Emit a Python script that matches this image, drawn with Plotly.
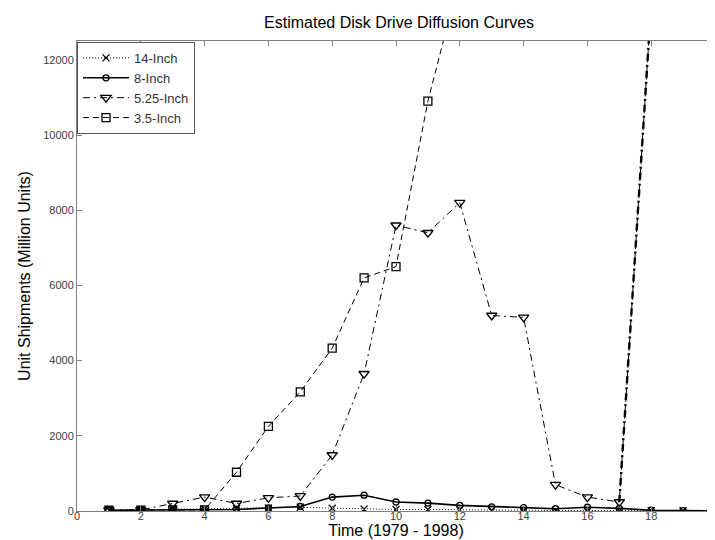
import plotly.graph_objects as go

years = list(range(1, 21))
inch14 = [20, 30, 40, 50, 60, 80, 100, 75, 50, 40, 40, 30, 20, 20, 15, 15, 10, 10, 5, 5]
inch8 = [20, 20, 20, 30, 40, 80, 120, 370, 420, 240, 210, 150, 110, 90, 60, 100, 70, 20, 10, 5]
inch525 = [20, 30, 200, 370, 200, 350, 400, 1490, 3650, 7600, 7400, 8200, 5200, 5150, 700, 370, 240, 13500, None, None]
inch35 = [20, 20, 30, 30, 1030, 2250, 3170, 4330, 6200, 6500, 10900, 14200, None, None, None, None, None, None, None, None]

x_ticks = list(range(0, 21, 2))
y_ticks = list(range(0, 12001, 2000))

FONT = "Liberation Sans, Arial, sans-serif"
INK = "black"

fig = go.Figure()
fig.add_trace(go.Scatter(
    x=years, y=inch14, name="14-Inch", mode="lines+markers",
    line=dict(color=INK, width=1, dash="1px,2px"),
    marker=dict(symbol="x-thin-open", size=7, color=INK, line=dict(color=INK, width=1.3)),
))
fig.add_trace(go.Scatter(
    x=years, y=inch8, name="8-Inch", mode="lines+markers",
    line=dict(color=INK, width=1.6),
    marker=dict(symbol="circle-open", size=6, color=INK, line=dict(color=INK, width=1.3)),
))
fig.add_trace(go.Scatter(
    x=years, y=inch525, name="5.25-Inch", mode="lines+markers",
    line=dict(color=INK, width=1, dash="7px,4px,2px,4px"),
    marker=dict(symbol="triangle-down-open", size=9, color=INK, line=dict(color=INK, width=1.3)),
))
# heavier final rise of the 5.25-Inch curve
fig.add_trace(go.Scatter(
    x=years[16:18], y=inch525[16:18], mode="lines", showlegend=False,
    line=dict(color=INK, width=2.4, dash="7px,4px,2px,4px"), hoverinfo="skip",
))
fig.add_trace(go.Scatter(
    x=years, y=inch35, name="3.5-Inch", mode="lines+markers",
    line=dict(color=INK, width=1, dash="6px,4px"),
    marker=dict(symbol="square-open", size=8, color=INK, line=dict(color=INK, width=1.3)),
))

axis_common = dict(
    showline=True, linecolor="#808080", linewidth=1, mirror="ticks",
    ticks="inside", ticklen=5, tickcolor="#808080",
    showgrid=False, zeroline=False,
    tickfont=dict(family=FONT, size=11, color="#404040"),
)

fig.update_layout(
    width=715, height=540,
    margin=dict(l=69, r=2, t=33, b=37),
    paper_bgcolor="white", plot_bgcolor="white",
    title=dict(text="Estimated Disk Drive Diffusion Curves", x=0.547,
               xanchor="center", y=1 - 14 / 540, yanchor="middle",
               font=dict(family=FONT, size=16, color="black")),
    xaxis=dict(range=[0, 20], tickvals=x_ticks, ticktext=[str(v) for v in x_ticks],
               ticklabeloverflow="allow", ticklabelstandoff=-5,
               title=dict(text="Time (1979 - 1998)", standoff=0,
                          font=dict(family=FONT, size=16, color="black")),
               **axis_common),
    yaxis=dict(range=[0, 12500], tickvals=y_ticks, ticktext=[str(v) for v in y_ticks],
               title=dict(text="Unit Shipments (Million Units)", standoff=8,
                          font=dict(family=FONT, size=16, color="black")),
               **axis_common),
    legend=dict(x=0.0, y=0.998, xanchor="left", yanchor="top",
                bgcolor="white", bordercolor="#555555", borderwidth=1,
                font=dict(family=FONT, size=13, color="#333333"),
                tracegroupgap=0, itemwidth=46, entrywidth=80),
    showlegend=True,
)

fig.write_html("out.html")
